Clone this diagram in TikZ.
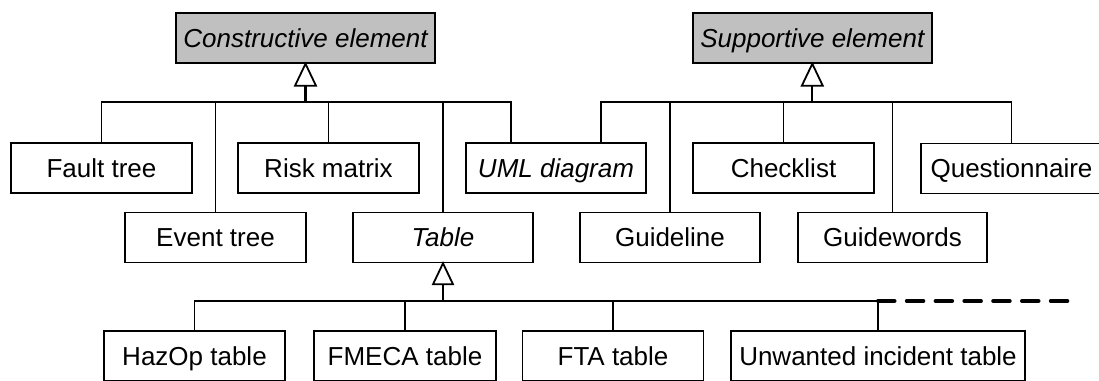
\documentclass[tikz,border=0pt]{standalone}
\usepackage{fontspec}
\setmainfont{Liberation Sans}
\definecolor{hdgray}{RGB}{192,192,192}
\begin{document}
\begin{tikzpicture}[x=1pt,y=-1pt,
  elbox/.style={draw, line width=1.6pt, minimum height=50pt, inner sep=0pt,
    text height=18.8pt, text depth=0pt, font=\fontsize{26}{30}\selectfont, anchor=center},
  absbox/.style={elbox, fill=hdgray},
  conn/.style={line width=1.2pt},
  stemline/.style={line width=2.2pt},
  tri/.style={draw, fill=white, line width=1.8pt, line join=miter},
  dashline/.style={line width=4pt, line cap=round, dash pattern=on 16.5pt off 12.3pt}]
\useasboundingbox (0,0) rectangle (1099,380);
\clip (0,0) rectangle (1099,380);

% abstract heads
\node[absbox, minimum width=259pt] (cons) at (305.5,38) {\itshape Constructive element};
\node[absbox, minimum width=239pt] (supp) at (812.3,38) {\itshape Supportive element};

% first row
\node[elbox, minimum width=181pt] (fault) at (101.5,168) {Fault tree};
\node[elbox, minimum width=181pt] (risk) at (328.5,168) {Risk matrix};
\node[elbox, minimum width=180pt] (uml) at (556,168) {\itshape UML diagram};
\node[elbox, minimum width=181pt] (check) at (783.5,168) {Checklist};
\node[elbox, minimum width=181pt] (quest) at (1011.5,168.5) {Questionnaire};

% second row
\node[elbox, minimum width=181pt] (event) at (215.5,237.5) {Event tree};
\node[elbox, minimum width=180pt] (table) at (443,237.5) {\itshape Table};
\node[elbox, minimum width=180pt] (guideline) at (670,237.5) {Guideline};
\node[elbox, minimum width=189pt] (guidewords) at (892.5,237.5) {Guidewords};

% third row
\node[elbox, minimum width=181pt] (hazop) at (194.5,356) {HazOp table};
\node[elbox, minimum width=182pt] (fmeca) at (405,356) {FMECA table};
\node[elbox, minimum width=181pt] (fta) at (613,356) {FTA table};
\node[elbox, minimum width=294pt] (unw) at (878,356) {Unwanted incident table};

% bus junctions and triangle bases
\coordinate (cbus) at (305.5,102);
\coordinate (sbus) at (812.3,102);
\coordinate (tbus) at (443,301);
\coordinate (dashend) at (1069,301);
\path (cons.south) ++(0,22) coordinate (cbase);
\path (supp.south) ++(0,22) coordinate (sbase);
\path (table.south) ++(0,21) coordinate (tbase);

% constructive element children
\draw[conn] (fault.north) |- (cbus);
\draw[conn] (event.north) |- (cbus);
\draw[conn] (risk.north) |- (cbus);
\draw[conn] (table.north) |- (cbus);
\draw[conn] ([xshift=-45pt]uml.north) |- (cbus);
\draw[stemline] (cbus) -- (cbase);
\draw[tri] (cons.south) -- ([xshift=10.5pt]cbase) -- ([xshift=-10.5pt]cbase) -- cycle;

% supportive element children
\draw[conn] ([xshift=45pt]uml.north) |- (sbus);
\draw[conn] (guideline.north) |- (sbus);
\draw[conn] (check.north) |- (sbus);
\draw[conn] (guidewords.north) |- (sbus);
\draw[conn] (quest.north) |- (sbus);
\draw[stemline] (sbus) -- (sbase);
\draw[tri] (supp.south) -- ([xshift=10.5pt]sbase) -- ([xshift=-10.5pt]sbase) -- cycle;

% table children
\draw[conn] (hazop.north) |- (tbus);
\draw[conn] (fmeca.north) |- (tbus);
\draw[conn] (fta.north) |- (tbus);
\draw[conn] (unw.north) |- (tbus);
\draw[stemline] (tbus) -- (tbase);
\draw[tri] (table.south) -- ([xshift=10pt]tbase) -- ([xshift=-10pt]tbase) -- cycle;
\draw[dashline] (unw.north |- tbus) -- (dashend);
\end{tikzpicture}
\end{document}
